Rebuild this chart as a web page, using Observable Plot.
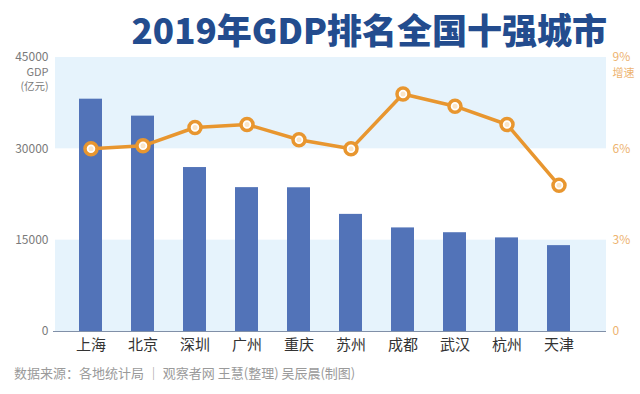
<!DOCTYPE html>
<html><head><meta charset="utf-8">
<script src="https://cdn.jsdelivr.net/npm/d3@7"></script>
<script src="https://cdn.jsdelivr.net/npm/@observablehq/plot@0.6"></script>
<style>
body{margin:0;background:#fff;font-family:"Noto Sans CJK SC","Noto Sans",sans-serif;}
#wrap{position:relative;width:640px;height:394px;overflow:hidden;background:#fff}
#title{position:absolute;right:33px;top:11px;font-size:35px;font-weight:900;color:#234C8E;white-space:nowrap;line-height:1}
#foot{position:absolute;left:14px;top:366px;font-size:13px;color:#9a9a9a;white-space:nowrap;line-height:1}
</style></head>
<body>
<div id="wrap">
  <div id="chart"></div>
  <div id="title">2019年GDP排名全国十强城市</div>
  <div id="foot">数据来源：各地统计局 ｜ 观察者网 王慧(整理) 吴辰晨(制图)</div>
</div>
<script>
const cities = ["上海","北京","深圳","广州","重庆","苏州","成都","武汉","杭州","天津"];
const gdp = [38155, 35371, 26927, 23628, 23605, 19236, 17013, 16223, 15373, 14104];
const growth = [6.0, 6.1, 6.7, 6.8, 6.3, 6.0, 7.8, 7.4, 6.8, 4.8];
const gdpTicks = [0, 15000, 30000, 45000];
const growthTicks = [0, 3, 6, 9];
const leftUnit = "GDP";
const leftUnit2 = "(亿元)";
const rightUnit = "增速";

const k = gdpTicks[gdpTicks.length - 1] / growthTicks[growthTicks.length - 1];
const rows = cities.map((c, i) => ({city: c, gdp: gdp[i], growth: growth[i]}));
const bands = gdpTicks.slice(0, -1).map((t, i) => ({y1: t, y2: gdpTicks[i + 1], i})).filter(d => d.i % 2 === 0);

const orange = "#E8962F";
const grey = "#7a7a7a";
const chart = Plot.plot({
  width: 640,
  height: 394,
  marginTop: 57,
  marginBottom: 63,
  marginLeft: 55,
  marginRight: 34,
  style: {fontFamily: '"Noto Sans CJK SC","Noto Sans",sans-serif', background: "transparent"},
  x: {domain: cities, insetLeft: 7, insetRight: 19, paddingInner: 0.556, paddingOuter: 0.278},
  y: {domain: [0, 45000]},
  marks: [
    Plot.rectY(bands, {y1: "y1", y2: "y2", fill: "#E6F3FC"}),
    Plot.barY(rows, {x: "city", y: "gdp", fill: "#5273B8"}),
    Plot.ruleY([0], {stroke: "#8190A8", strokeWidth: 1, insetLeft: -2}),
    Plot.line(rows, {x: "city", y: d => d.growth * k, stroke: orange, strokeWidth: 3.5}),
    Plot.dot(rows, {x: "city", y: d => d.growth * k, r: 6, fill: "#fff", stroke: orange, strokeWidth: 3.5}),
    Plot.dot(rows, {x: "city", y: d => d.growth * k, r: 2.5, fill: "#FBE6C8"}),
    Plot.axisY({ticks: gdpTicks, tickFormat: d => String(d), tickSize: 0, tickPadding: 7, fontSize: 12, color: grey, label: null}),
    Plot.axisY({anchor: "right", ticks: growthTicks.map(g => g * k), tickFormat: d => d === 0 ? "0" : (d / k) + "%", tickSize: 0, tickPadding: 6, fontSize: 12, color: "#EDB36F", label: null}),
    Plot.axisX({tickSize: 0, tickPadding: 8, fontSize: 15, color: "#333", label: null}),
    Plot.text([leftUnit], {text: d => d, frameAnchor: "top-left", dx: -7, dy: 15, textAnchor: "end", lineAnchor: "middle", fontSize: 11, fill: grey}),
    Plot.text([leftUnit2], {text: d => d, frameAnchor: "top-left", dx: -7, dy: 29, textAnchor: "end", lineAnchor: "middle", fontSize: 10.5, fill: grey}),
    Plot.text([rightUnit], {text: d => d, frameAnchor: "top-right", dx: 6, dy: 16, textAnchor: "start", lineAnchor: "middle", fontSize: 11, fill: "#EDB36F"})
  ]
});
document.getElementById("chart").appendChild(chart);
</script>
</body></html>
